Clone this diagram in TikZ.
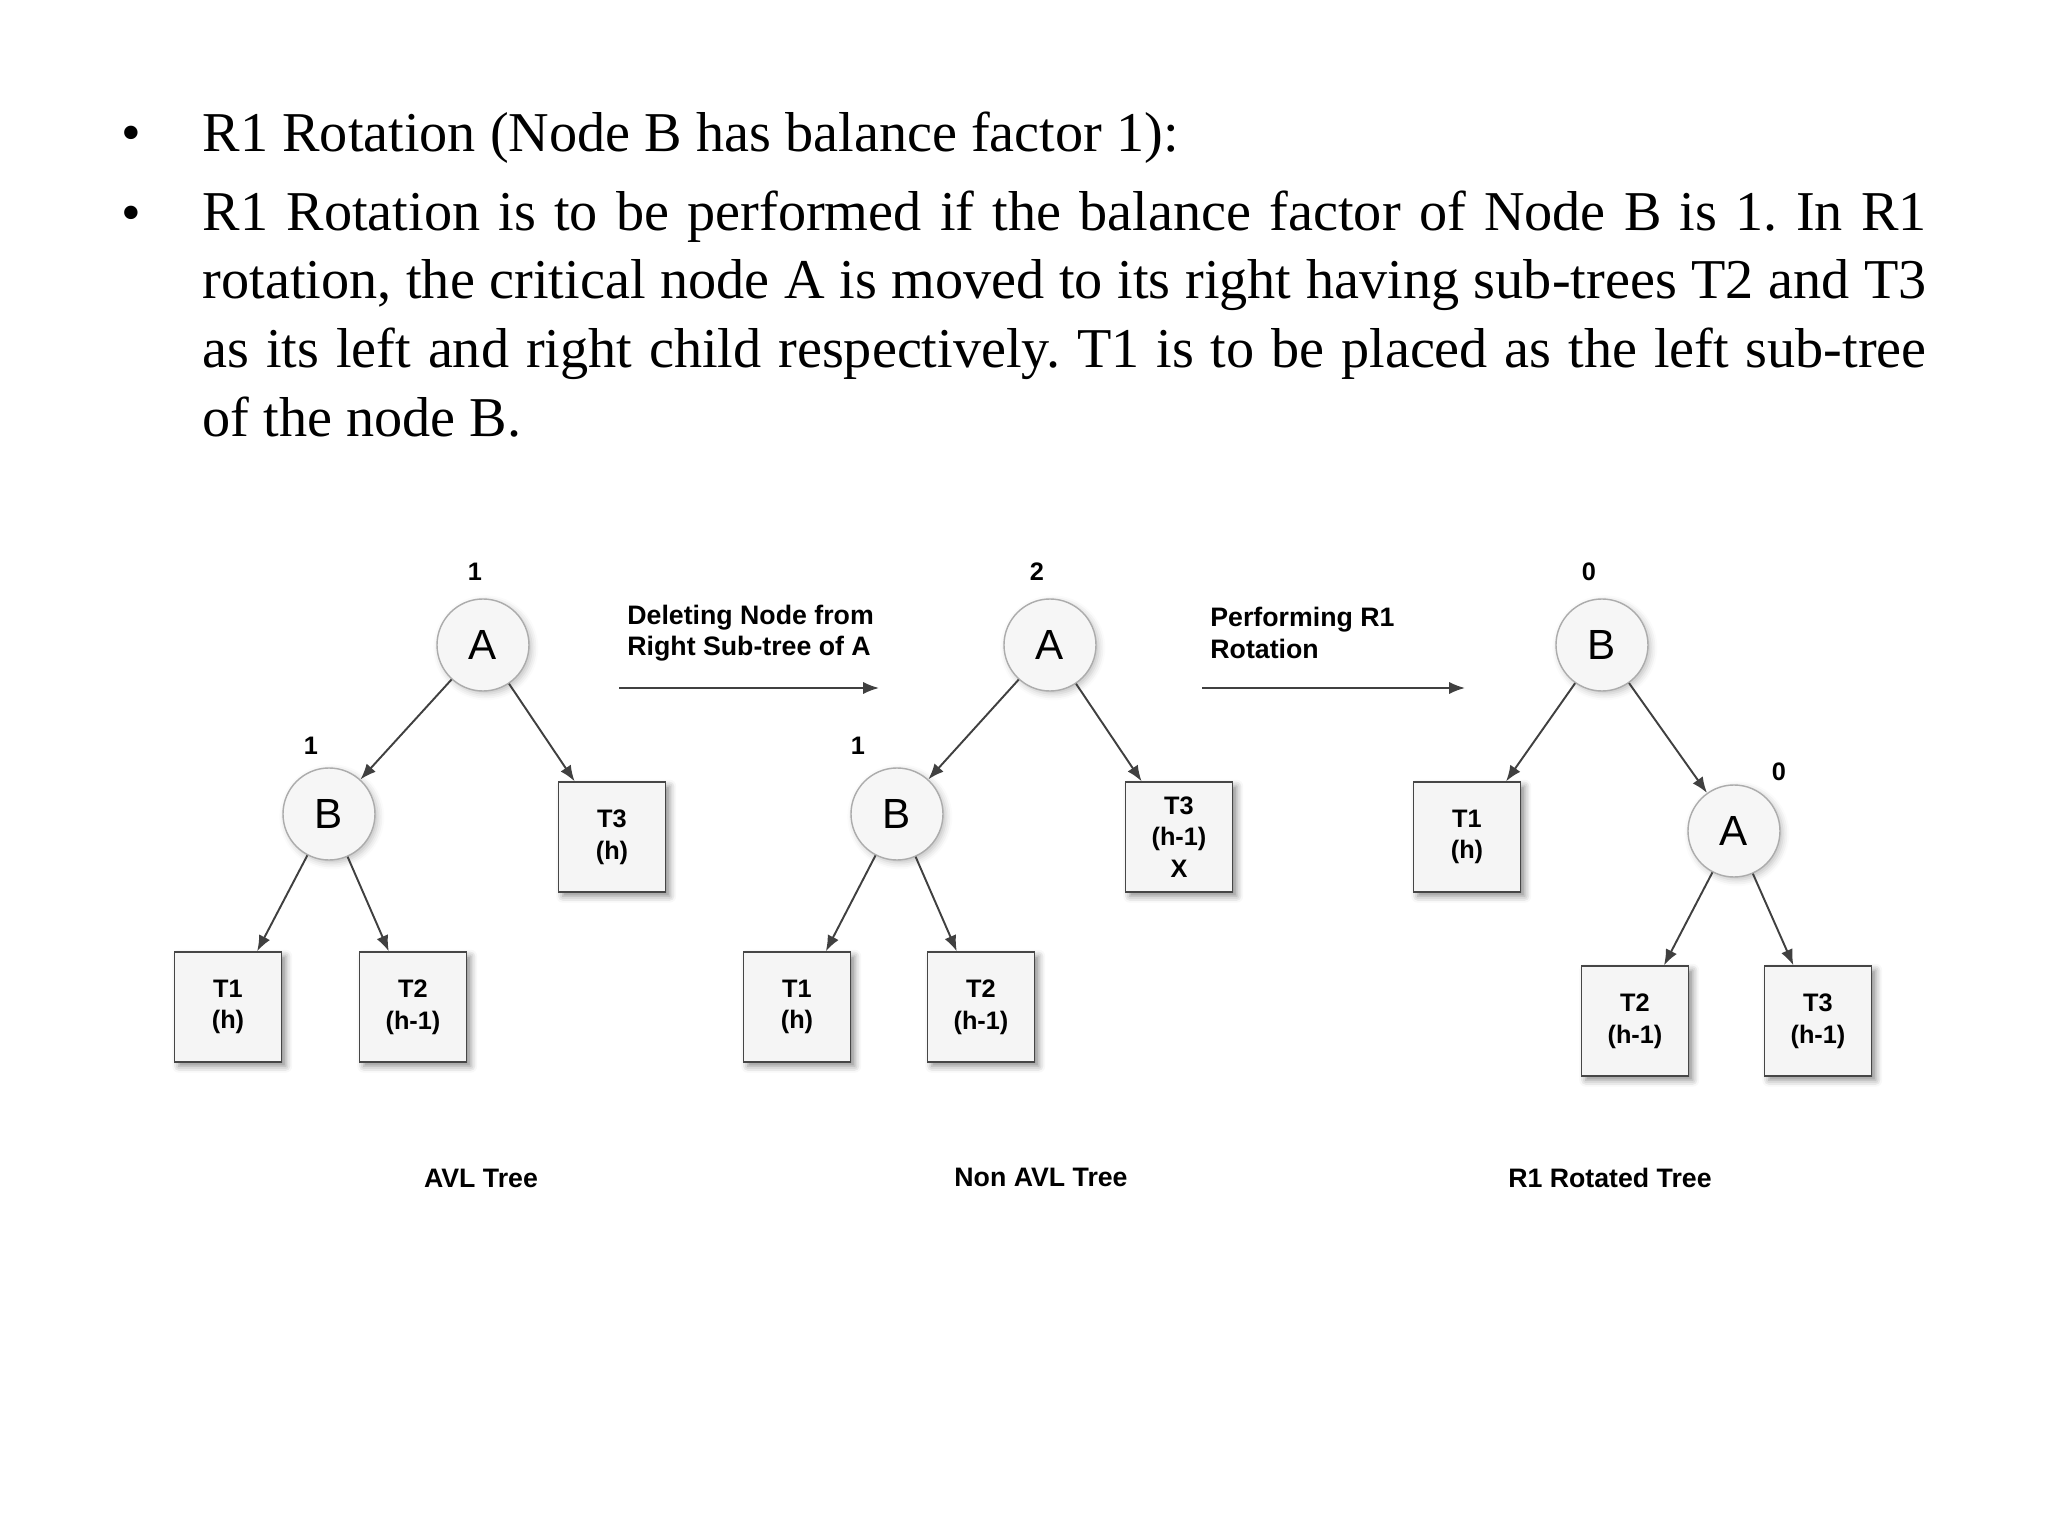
\documentclass[tikz,border=0pt]{standalone}
\usepackage{fontspec}
\setmainfont{Liberation Serif}
\setsansfont{Liberation Sans}
\usetikzlibrary{arrows.meta,shadows.blur}
\newcommand{\hdfont}{\fontsize{16}{19.3}\selectfont}
\frenchspacing
\tikzset{
	>={Latex[length=4.5pt,width=3.5pt]},
	vertex/.style={
			circle, draw=gray!65, fill=gray!7, minimum size=0.92cm, inner sep=0pt,
			font=\sffamily\fontsize{12}{12}\selectfont,
			blur shadow={shadow xshift=0.8pt, shadow yshift=-0.8pt, shadow opacity=25}
		},
	subtree/.style={
			rectangle, draw=gray!55!black, fill=gray!8, minimum width=1.07cm, minimum height=1.1cm,
			align=center, font=\sffamily\bfseries\fontsize{7.2}{9}\selectfont,
			blur shadow={shadow xshift=1.2pt, shadow yshift=-1.2pt, shadow opacity=45}
		},
	bf/.style={font=\sffamily\bfseries\fontsize{7.2}{9}\selectfont},
	caption/.style={font=\sffamily\bfseries\fontsize{7.6}{9}\selectfont, align=left},
	hdline/.style={anchor=base west, inner sep=0pt, font=\hdfont},
	link/.style={->, draw=black!75, line width=0.55pt}
}

\begin{document}
\begin{tikzpicture}
	\useasboundingbox (0,0) rectangle (20.48,-15.36);

	% header text
	\node[font=\hdfont] (dot1) at (1.31,-1.39) {\textbullet};
	\node[font=\hdfont] (dot2) at (1.31,-2.19) {\textbullet};
	\node[hdline] (line1) at (2.02,-1.52) {R1 Rotation (Node B has balance factor 1):};
	\node[hdline] (line2) at (2.02,-2.31) {\makebox[17.24cm][s]{R1 Rotation is to be performed if the balance factor of Node B is 1. In R1}};
	\node[hdline] (line3) at (2.02,-2.99) {\makebox[17.24cm][s]{rotation, the critical node A is moved to its right having sub-trees T2 and T3}};
	\node[hdline] (line4) at (2.02,-3.68) {\makebox[17.24cm][s]{as its left and right child respectively. T1 is to be placed as the left sub-tree}};
	\node[hdline] (line5) at (2.02,-4.37) {of the node B.};

	% AVL tree
	\node[vertex] (A1) at (4.83,-6.45) {A};
	\node[vertex] (B1) at (3.29,-8.14) {B};
	\node[subtree] (T1a) at (2.28,-10.07) {T1\\(h)};
	\node[subtree] (T2a) at (4.13,-10.07) {T2\\(h-1)};
	\node[subtree] (T3a) at (6.12,-8.37) {T3\\(h)};
	\node[bf] (bfA1) at (4.75,-5.72) {1};
	\node[bf] (bfB1) at (3.11,-7.46) {1};
	\draw[link] (A1) -- (B1);
	\draw[link] (A1) -- (T3a);
	\draw[link] (B1) -- (T1a);
	\draw[link] (B1) -- (T2a);
	\node[caption] (cap1) at (4.81,-11.78) {AVL Tree};

	% deleting step
	\coordinate (d1) at (6.19,-6.88);
	\coordinate (d2) at (8.79,-6.88);
	\draw[link] (d1) -- (d2);
	\node[caption, anchor=west] (delete) at (6.15,-6.33) {Deleting Node from\\Right Sub-tree of A};

	% non AVL tree
	\node[vertex] (A2) at (10.50,-6.45) {A};
	\node[vertex] (B2) at (8.97,-8.14) {B};
	\node[subtree] (T1b) at (7.97,-10.07) {T1\\(h)};
	\node[subtree] (T2b) at (9.81,-10.07) {T2\\(h-1)};
	\node[subtree] (T3b) at (11.79,-8.37) {T3\\(h-1)\\X};
	\node[bf] (bfA2) at (10.37,-5.72) {2};
	\node[bf] (bfB2) at (8.58,-7.46) {1};
	\draw[link] (A2) -- (B2);
	\draw[link] (A2) -- (T3b);
	\draw[link] (B2) -- (T1b);
	\draw[link] (B2) -- (T2b);
	\node[caption] (cap2) at (10.41,-11.77) {Non AVL Tree};

	% rotation step
	\coordinate (r1) at (12.02,-6.88);
	\coordinate (r2) at (14.65,-6.88);
	\draw[link] (r1) -- (r2);
	\node[caption, anchor=west] (rotate) at (11.98,-6.33) {Performing R1\\Rotation};

	% rotated tree
	\node[vertex] (B3) at (16.02,-6.45) {B};
	\node[subtree] (T1c) at (14.67,-8.37) {T1\\(h)};
	\node[vertex] (A3) at (17.34,-8.31) {A};
	\node[subtree] (T2c) at (16.35,-10.21) {T2\\(h-1)};
	\node[subtree] (T3c) at (18.18,-10.21) {T3\\(h-1)};
	\node[bf] (bfB3) at (15.89,-5.72) {0};
	\node[bf] (bfA3) at (17.79,-7.72) {0};
	\draw[link] (B3) -- (T1c);
	\draw[link] (B3) -- (A3);
	\draw[link] (A3) -- (T2c);
	\draw[link] (A3) -- (T3c);
	\node[caption] (cap3) at (16.10,-11.78) {R1 Rotated Tree};
\end{tikzpicture}
\end{document}
